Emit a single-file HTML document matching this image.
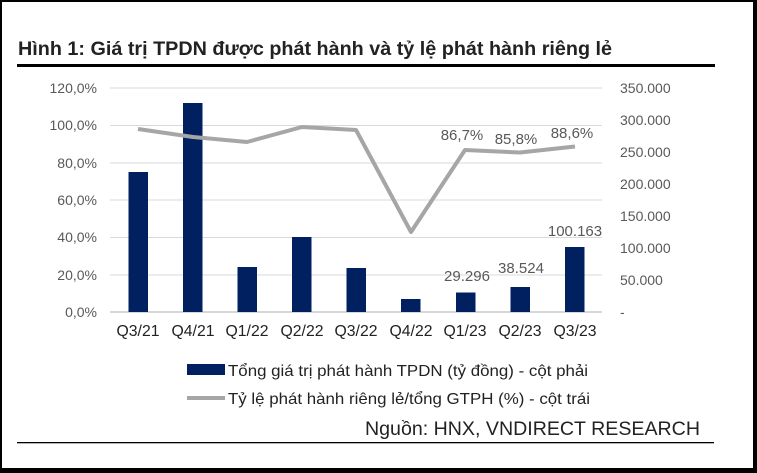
<!DOCTYPE html>
<html><head><meta charset="utf-8"><style>
html,body{margin:0;padding:0;background:#fff}
svg{display:block}
text{font-family:"Liberation Sans",sans-serif}
</style></head><body>
<svg width="757" height="473" viewBox="0 0 757 473" xmlns="http://www.w3.org/2000/svg">
<rect x="0" y="0" width="757" height="473" fill="#fff"/>
<rect x="0" y="0" width="757" height="2" fill="#000"/>
<rect x="0" y="0" width="2" height="473" fill="#000"/>
<rect x="753" y="0" width="4" height="473" fill="#000"/>
<rect x="0" y="468" width="757" height="5" fill="#000"/>
<text x="18" y="55" font-size="19" font-weight="bold" fill="#222" textLength="594" lengthAdjust="spacingAndGlyphs">Hình 1: Giá trị TPDN được phát hành và tỷ lệ phát hành riêng lẻ</text>
<rect x="17" y="64" width="698" height="3" fill="#000"/>
<g stroke="#d9d9d9" stroke-width="1">
<line x1="110" y1="88" x2="602" y2="88"/>
<line x1="110" y1="125.5" x2="602" y2="125.5"/>
<line x1="110" y1="163" x2="602" y2="163"/>
<line x1="110" y1="200" x2="602" y2="200"/>
<line x1="110" y1="237.5" x2="602" y2="237.5"/>
<line x1="110" y1="275" x2="602" y2="275"/>
</g>
<line x1="110" y1="312" x2="602" y2="312" stroke="#bfbfbf" stroke-width="1.2"/>
<g font-size="14" fill="#595959" text-anchor="end">
<text x="97" y="93">120,0%</text>
<text x="97" y="130">100,0%</text>
<text x="97" y="168">80,0%</text>
<text x="97" y="205">60,0%</text>
<text x="97" y="242">40,0%</text>
<text x="97" y="280">20,0%</text>
<text x="97" y="317">0,0%</text>
</g>
<g font-size="14" fill="#595959">
<text x="620" y="93">350.000</text>
<text x="620" y="125">300.000</text>
<text x="620" y="157">250.000</text>
<text x="620" y="189">200.000</text>
<text x="620" y="221">150.000</text>
<text x="620" y="253">100.000</text>
<text x="620" y="285">50.000</text>
<text x="620" y="317">-</text>
</g>
<g fill="#002060">
<rect x="128.5" y="172" width="19.5" height="140"/>
<rect x="183" y="103" width="19.5" height="209"/>
<rect x="237.5" y="267" width="19.5" height="45"/>
<rect x="292" y="237" width="19.5" height="75"/>
<rect x="346.5" y="268" width="19.5" height="44"/>
<rect x="401" y="299" width="19.5" height="13"/>
<rect x="456" y="292.5" width="19.5" height="19.5"/>
<rect x="510.5" y="287" width="19.5" height="25"/>
<rect x="565" y="247" width="19.5" height="65"/>
</g>
<polyline points="138,129 193,137 247,142 302,127 356,130 411,232 465,150 520,152.5 575,146.5" fill="none" stroke="#a6a6a6" stroke-width="4" stroke-linejoin="round"/>
<g font-size="15" fill="#595959" text-anchor="middle">
<text x="462" y="140">86,7%</text>
<text x="516" y="144">85,8%</text>
<text x="572" y="138">88,6%</text>
<text x="467" y="281">29.296</text>
<text x="521" y="273">38.524</text>
<text x="575" y="236">100.163</text>
</g>
<g font-size="16" fill="#222" text-anchor="middle">
<text x="138" y="336" textLength="43" lengthAdjust="spacingAndGlyphs">Q3/21</text>
<text x="193" y="336" textLength="43" lengthAdjust="spacingAndGlyphs">Q4/21</text>
<text x="247" y="336" textLength="43" lengthAdjust="spacingAndGlyphs">Q1/22</text>
<text x="302" y="336" textLength="43" lengthAdjust="spacingAndGlyphs">Q2/22</text>
<text x="356" y="336" textLength="43" lengthAdjust="spacingAndGlyphs">Q3/22</text>
<text x="411" y="336" textLength="43" lengthAdjust="spacingAndGlyphs">Q4/22</text>
<text x="465" y="336" textLength="43" lengthAdjust="spacingAndGlyphs">Q1/23</text>
<text x="520" y="336" textLength="43" lengthAdjust="spacingAndGlyphs">Q2/23</text>
<text x="575" y="336" textLength="43" lengthAdjust="spacingAndGlyphs">Q3/23</text>
</g>
<rect x="187" y="364" width="38" height="11" fill="#002060"/>
<text x="228" y="376" font-size="16" fill="#222" textLength="360" lengthAdjust="spacingAndGlyphs">Tổng giá trị phát hành TPDN (tỷ đồng) - cột phải</text>
<line x1="187" y1="398" x2="225" y2="398" stroke="#a6a6a6" stroke-width="4"/>
<text x="228" y="404" font-size="16" fill="#222" textLength="362" lengthAdjust="spacingAndGlyphs">Tỷ lệ phát hành riêng lẻ/tổng GTPH (%) - cột trái</text>
<text x="700" y="435" font-size="19" fill="#222" text-anchor="end" textLength="335" lengthAdjust="spacingAndGlyphs">Nguồn: HNX, VNDIRECT RESEARCH</text>
<rect x="17" y="442" width="697" height="1.3" fill="#000"/>
</svg>
</body></html>
